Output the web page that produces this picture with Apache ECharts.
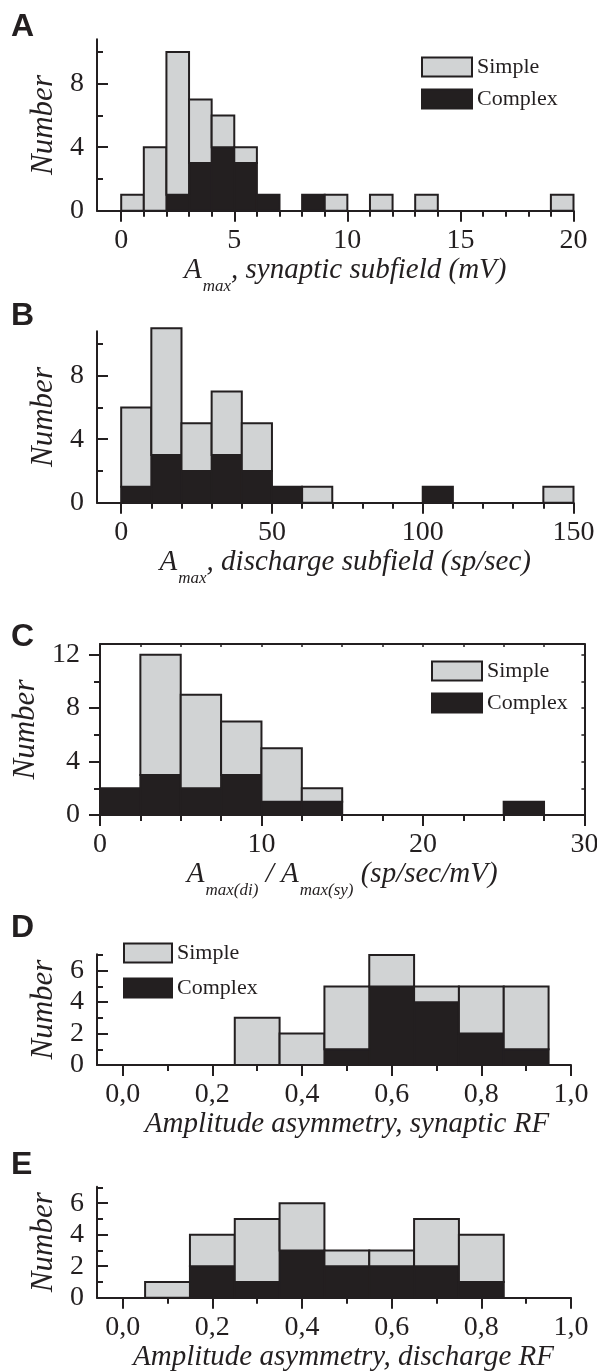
<!DOCTYPE html>
<html>
<head>
<meta charset="utf-8">
<title>Amplitude histograms</title>
<script src="https://cdn.jsdelivr.net/npm/echarts@6/dist/echarts.min.js"></script>
<style>
  html, body { margin: 0; padding: 0; background: #fff; }
  #chart { width: 597px; height: 1372px; }
</style>
</head>
<body>
<div id="chart"></div>
<script>
// ---- values ----
// A: A_max, synaptic subfield (mV), 1 mV bins
const binsA = [0, 1, 2, 3, 4, 5, 6, 7, 8, 9, 10, 11, 12, 13, 14, 15, 16, 17, 18, 19];
const simpleA = [1, 4, 9, 4, 2, 1, 0, 0, 0, 1, 0, 1, 0, 1, 0, 0, 0, 0, 0, 1];
const complexA = [0, 0, 1, 3, 4, 3, 1, 0, 1, 0, 0, 0, 0, 0, 0, 0, 0, 0, 0, 0];
const xTicksA = [0, 5, 10, 15, 20];
const xMinorA = [0, 1, 2, 3, 4, 5, 6, 7, 8, 9, 10, 11, 12, 13, 14, 15, 16, 17, 18, 19, 20];

// B: A_max, discharge subfield (sp/sec), 10 sp/sec bins
const binsB = [0, 10, 20, 30, 40, 50, 60, 70, 80, 90, 100, 110, 120, 130, 140];
const simpleB = [5, 8, 3, 4, 3, 0, 1, 0, 0, 0, 0, 0, 0, 0, 1];
const complexB = [1, 3, 2, 3, 2, 1, 0, 0, 0, 0, 1, 0, 0, 0, 0];
const xTicksB = [0, 50, 100, 150];
const xMinorB = [0, 10, 20, 30, 40, 50, 60, 70, 80, 90, 100, 110, 120, 130, 140, 150];

// C: A_max(di) / A_max(sy), 2.5 bins
const binsC = [0, 2.5, 5, 7.5, 10, 12.5, 15, 17.5, 20, 22.5, 25, 27.5];
const simpleC = [0, 9, 7, 4, 4, 1, 0, 0, 0, 0, 0, 0];
const complexC = [2, 3, 2, 3, 1, 1, 0, 0, 0, 0, 1, 0];
const xTicksC = [0, 10, 20, 30];
const xMinorC = [0, 2.5, 5, 7.5, 10, 12.5, 15, 17.5, 20, 22.5, 25, 27.5, 30];

// D: amplitude asymmetry, synaptic RF, 0.1 bins
const binsD = [0.05, 0.15, 0.25, 0.35, 0.45, 0.55, 0.65, 0.75, 0.85];
const simpleD = [0, 0, 3, 2, 4, 2, 1, 3, 4];
const complexD = [0, 0, 0, 0, 1, 5, 4, 2, 1];

// E: amplitude asymmetry, discharge RF, 0.1 bins
const binsE = [0.05, 0.15, 0.25, 0.35, 0.45, 0.55, 0.65, 0.75];
const simpleE = [1, 2, 4, 3, 1, 1, 3, 3];
const complexE = [0, 2, 1, 3, 2, 2, 2, 1];

const xTicksDE = [0, 0.2, 0.4, 0.6, 0.8, 1.0];
const xMinorDE = [0, 0.1, 0.2, 0.3, 0.4, 0.5, 0.6, 0.7, 0.8, 0.9, 1.0];

const yTicksAB = [0, 4, 8];
const yMinorAB = [2, 6, 10];
const yTicksC = [0, 4, 8, 12];
const yMinorC = [2, 6, 10];
const yRightC = [0, 2, 4, 6, 8, 10, 12];
const yTicksDE = [0, 2, 4, 6];
const yMinorDE = [1, 3, 5, 7];

// ---- styling ----
const INK = '#231f20';
const GRAY = '#d1d3d4';
const SERIF = '"Liberation Serif", "Times New Roman", serif';
const SANS = '"Liberation Sans", Arial, sans-serif';

const nameRich = {
    a: { fontFamily: SERIF, fontStyle: 'italic', fontSize: 29, lineHeight: 30, color: INK, verticalAlign: 'top' },
    s: { fontFamily: SERIF, fontStyle: 'italic', fontSize: 17, lineHeight: 17, color: INK, verticalAlign: 'top', padding: [22, 0, 0, 1] }
};

const option = {
    animation: false,
    backgroundColor: '#ffffff',
    grid: [], xAxis: [], yAxis: [], series: [], title: [], legend: []
};

function binRenderer(fill) {
    return function (params, api) {
        const lo = api.coord([api.value(0), api.value(2)]);
        const hi = api.coord([api.value(1), api.value(3)]);
        return {
            type: 'rect',
            shape: { x: lo[0], y: hi[1], width: hi[0] - lo[0], height: lo[1] - hi[1] },
            style: { fill: fill, stroke: INK, lineWidth: 2 }
        };
    };
}

function tickAxis(kind, gi, pos, min, max, values, length, inside) {
    const ax = {
        type: 'value', gridIndex: gi, position: pos, min: min, max: max,
        axisLine: { show: false, onZero: false },
        axisTick: { show: true, inside: inside, length: length, customValues: values, lineStyle: { color: INK, width: 2 } },
        axisLabel: { show: false },
        splitLine: { show: false }
    };
    option[kind].push(ax);
    return ax;
}

function addPanel(p) {
    const gi = option.grid.length;
    option.grid.push({
        left: p.grid[0], top: p.grid[1], right: p.grid[2], bottom: p.grid[3],
        containLabel: false, outerBoundsMode: 'none'
    });

    const xi = option.xAxis.length;
    const xMain = tickAxis('xAxis', gi, 'bottom', p.xMin, p.xMax, p.xTicks, 11, false);
    xMain.axisLine = { show: true, onZero: false, lineStyle: { color: INK, width: 2 } };
    xMain.axisLabel = {
        show: true, customValues: p.xTicks, margin: 16,
        fontFamily: SERIF, fontSize: 28, color: INK, formatter: p.xFmt
    };
    xMain.name = p.xName;
    xMain.nameLocation = 'middle';
    xMain.nameGap = p.xNameGap;
    xMain.nameTextStyle = { color: INK, padding: [0, 0, 0, p.xShift], rich: nameRich };
    tickAxis('xAxis', gi, 'bottom', p.xMin, p.xMax, p.xMinor, 6, false);

    const yi = option.yAxis.length;
    const yMain = tickAxis('yAxis', gi, 'left', 0, p.yMax, p.yTicks, 11, p.yInside);
    yMain.axisLine = { show: true, onZero: false, lineStyle: { color: INK, width: 2 } };
    yMain.axisLabel = {
        show: true, customValues: p.yTicks, margin: p.yLabelMargin,
        fontFamily: SERIF, fontSize: 28, color: INK
    };
    yMain.name = 'Number';
    yMain.nameLocation = 'middle';
    yMain.nameGap = p.yNameGap;
    yMain.nameTextStyle = { fontFamily: SERIF, fontStyle: 'italic', fontSize: 31, color: INK };
    tickAxis('yAxis', gi, 'left', 0, p.yMax, p.yMinor, 6, p.yInside);

    if (p.box) {
        const top = tickAxis('xAxis', gi, 'top', p.xMin, p.xMax, p.xMinor, 3, true);
        top.axisLine = { show: true, onZero: false, lineStyle: { color: INK, width: 2 } };
        top.axisTick.lineStyle.width = 1.5;
        const right = tickAxis('yAxis', gi, 'right', 0, p.yMax, p.yRight, 3, true);
        right.axisLine = { show: true, onZero: false, lineStyle: { color: INK, width: 2 } };
        right.axisTick.lineStyle.width = 1.5;
    }

    const complexData = [];
    const simpleData = [];
    p.bins.forEach(function (x0, i) {
        const x1 = x0 + p.width;
        const c = p.complex[i];
        const s = p.simple[i];
        if (c > 0) complexData.push([x0, x1, 0, c]);
        if (s > 0) simpleData.push([x0, x1, c, c + s]);
    });

    option.series.push({
        type: 'custom', name: 'Complex', xAxisIndex: xi, yAxisIndex: yi,
        renderItem: binRenderer(INK), data: complexData, encode: { x: [0, 1], y: [2, 3] },
        itemStyle: { color: INK }, clip: false, silent: true
    });
    option.series.push({
        type: 'custom', name: 'Simple', xAxisIndex: xi, yAxisIndex: yi,
        renderItem: binRenderer(GRAY), data: simpleData, encode: { x: [0, 1], y: [2, 3] },
        itemStyle: { color: GRAY }, clip: false, silent: true
    });

    option.title.push({
        text: p.letter, left: 11, top: p.letterTop, padding: 0,
        textStyle: { fontFamily: SANS, fontWeight: 'bold', fontSize: 32, color: INK }
    });

    if (p.legend) {
        option.legend.push({
            orient: 'vertical', left: p.legend[0], top: p.legend[1], padding: 0,
            itemWidth: p.legend[2], itemHeight: p.legend[3], itemGap: p.legend[4],
            icon: 'rect', selectedMode: false,
            data: [
                { name: 'Simple', itemStyle: { color: GRAY, borderColor: INK, borderWidth: 2 } },
                { name: 'Complex', itemStyle: { color: INK, borderColor: INK, borderWidth: 2 } }
            ],
            textStyle: { fontFamily: SERIF, fontSize: 22, color: INK, lineHeight: p.legend[3] }
        });
    }
}

const intFmt = function (v) { return String(v); };
const commaFmt = function (v) { return v.toFixed(1).replace('.', ','); };

addPanel({
    letter: 'A', letterTop: 11,
    grid: [97, 39.3, 23.5, 1161.3],
    xMin: -1.07, xMax: 20, xTicks: xTicksA, xMinor: xMinorA, xFmt: intFmt,
    xName: '{a|A}{s|max}{a|, synaptic subfield (mV)}', xNameGap: 45, xShift: 20,
    yMax: 10.8, yTicks: yTicksAB, yMinor: yMinorAB, yInside: true, yLabelMargin: 13, yNameGap: 33,
    bins: binsA, width: 1, simple: simpleA, complex: complexA,
    legend: [421, 56, 50, 19, 10]
});

addPanel({
    letter: 'B', letterTop: 300,
    grid: [97, 331.3, 23.5, 869.3],
    xMin: -8.02, xMax: 150, xTicks: xTicksB, xMinor: xMinorB, xFmt: intFmt,
    xName: '{a|A}{s|max}{a|, discharge subfield (sp/sec)}', xNameGap: 44, xShift: 20,
    yMax: 10.8, yTicks: yTicksAB, yMinor: yMinorAB, yInside: true, yLabelMargin: 13, yNameGap: 33,
    bins: binsB, width: 10, simple: simpleB, complex: complexB,
    legend: null
});

addPanel({
    letter: 'C', letterTop: 621,
    grid: [100, 644, 12.6, 557],
    xMin: 0, xMax: 30, xTicks: xTicksC, xMinor: xMinorC, xFmt: intFmt,
    xName: '{a|A}{s|max(di)}{a| / A}{s|max(sy)}{a| (sp/sec/mV)}', xNameGap: 45, xShift: 0,
    yMax: 12.8, yTicks: yTicksC, yMinor: yMinorC, yRight: yRightC, yInside: false, yLabelMargin: 20, yNameGap: 39,
    box: true,
    bins: binsC, width: 2.5, simple: simpleC, complex: complexC,
    legend: [431, 660, 50, 19, 10]
});

addPanel({
    letter: 'D', letterTop: 912,
    grid: [97, 954.2, 26, 307],
    xMin: -0.0573, xMax: 1.0, xTicks: xTicksDE, xMinor: xMinorDE, xFmt: commaFmt,
    xName: '{a|Amplitude asymmetry, synaptic RF}', xNameGap: 41, xShift: 26,
    yMax: 7.05, yTicks: yTicksDE, yMinor: yMinorDE, yInside: true, yLabelMargin: 13, yNameGap: 37,
    bins: binsD, width: 0.1, simple: simpleD, complex: complexD,
    legend: [123, 942, 48, 19, 13]
});

addPanel({
    letter: 'E', letterTop: 1149,
    grid: [97, 1186.7, 26, 74.3],
    xMin: -0.0573, xMax: 1.0, xTicks: xTicksDE, xMinor: xMinorDE, xFmt: commaFmt,
    xName: '{a|Amplitude asymmetry, discharge RF}', xNameGap: 38, xShift: 19,
    yMax: 7.05, yTicks: yTicksDE, yMinor: yMinorDE, yInside: true, yLabelMargin: 13, yNameGap: 37,
    bins: binsE, width: 0.1, simple: simpleE, complex: complexE,
    legend: null
});

const chart = echarts.init(document.getElementById('chart'), null, { renderer: 'canvas' });
chart.setOption(option);
</script>
</body>
</html>
